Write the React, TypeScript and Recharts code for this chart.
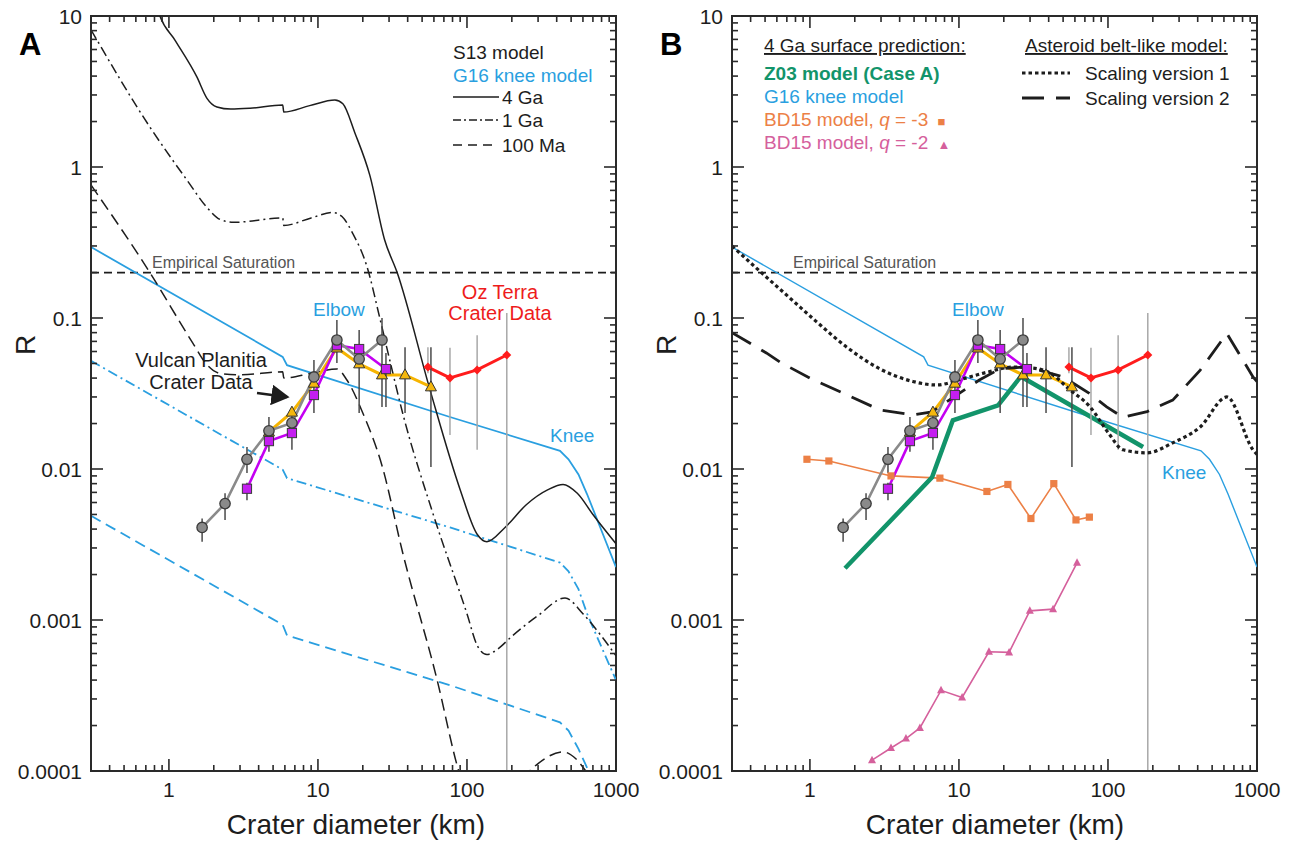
import React from 'react';
import { LineChart, Line, XAxis, YAxis, ReferenceLine, ReferenceArea, ErrorBar } from 'recharts';

type Pt = [number, number];
type ErrPt = [number, number, number, number]; // D, R, low, high

// ---------- Panel A: S13 model curves (crater diameter km, R) ----------
const s13Ga4: Pt[] = [
  [0.8, 13], [0.87, 10], [1.1, 6.9], [1.54, 3.95], [1.8, 2.85], [2.1, 2.5], [2.6, 2.42], [3.5, 2.45],
  [5.8, 2.57], [5.9, 2.31], [8.8, 2.55], [13, 2.78], [14.7, 2.62], [17.7, 1.68], [22.3, 0.88], [28, 0.33],
  [34, 0.2], [56.5, 0.0334], [90, 0.0073], [117, 0.0037], [136, 0.0033], [180, 0.0041], [250, 0.0058],
  [350, 0.0073], [441, 0.0079], [550, 0.0069], [700, 0.005], [1000, 0.0032],
];
const s13Ga1: Pt[] = [
  [0.3, 8.1], [0.745, 1.84], [1.32, 0.82], [1.8, 0.54], [2.2, 0.45], [2.7, 0.43], [5.8, 0.46], [5.9, 0.41],
  [9, 0.46], [12.6, 0.5], [14.5, 0.47], [17.2, 0.36], [21.3, 0.22], [26, 0.1], [30, 0.055], [37, 0.0235],
  [59, 0.0051], [100, 0.0011], [117, 0.00068], [136, 0.00059], [160, 0.00064], [200, 0.00078],
  [300, 0.00107], [455, 0.0014], [600, 0.0011], [800, 0.00078], [1000, 0.00058],
];
const s13Ma100: Pt[] = [
  [0.3, 0.76], [0.745, 0.2], [1.45, 0.068], [1.8, 0.049], [2.2, 0.043], [3, 0.042], [5.8, 0.044], [5.9, 0.04],
  [9, 0.043], [13.4, 0.046], [15.6, 0.039], [20, 0.0235], [27, 0.0104], [37, 0.0028], [62.7, 0.00041],
  [88, 0.0001], [105, 0.00006], [136, 0.000052], [170, 0.00006], [210, 0.000078], [300, 0.000112],
  [440, 0.000134], [540, 0.00012], [650, 0.000095], [800, 0.00007],
];

// ---------- G16 knee model ----------
const g16Ga4: Pt[] = [
  [0.3, 0.295], [5.8, 0.0553], [6.2, 0.0487], [76.9, 0.0221], [421, 0.0132], [480, 0.0116],
  [560, 0.0092], [640, 0.0068], [800, 0.0039], [1000, 0.00224],
];
const g16Ga1: Pt[] = [
  [0.3, 0.052], [5.8, 0.0099], [6.2, 0.0087], [76.9, 0.0041], [421, 0.0024], [480, 0.0021],
  [560, 0.0016], [640, 0.0011], [800, 0.00066], [1000, 0.0004],
];
const g16Ma100: Pt[] = [
  [0.3, 0.0049], [5.8, 0.00093], [6.2, 0.00079], [76.9, 0.00037], [421, 0.00021], [480, 0.000185],
  [560, 0.00014], [640, 0.000105], [750, 0.00007],
];

// ---------- crater data (with error bars) ----------
const vulcanCircles: ErrPt[] = [
  [1.67, 0.0041, 0.0033, 0.0047], [2.38, 0.0059, 0.0046, 0.0069], [3.34, 0.0116, 0.0094, 0.014],
  [4.69, 0.0179, 0.013, 0.0221], [6.69, 0.0202, 0.0134, 0.0254], [9.4, 0.0407, 0.0235, 0.0527],
  [13.4, 0.0715, 0.0503, 0.097], [18.9, 0.0535, 0.0235, 0.0833], [26.9, 0.0715, 0.0257, 0.1],
];
const vulcanSquares: ErrPt[] = [
  [3.34, 0.0074, 0.0062, 0.0081], [4.69, 0.0153, 0.0153, 0.0153], [6.69, 0.0173, 0.0173, 0.0173],
  [9.4, 0.0309, 0.0309, 0.0309], [13.4, 0.066, 0.066, 0.066], [18.9, 0.0623, 0.0623, 0.0623],
  [28.6, 0.0459, 0.0257, 0.0586],
];
const vulcanTriangles: ErrPt[] = [
  [4.69, 0.0176, 0.0176, 0.0176], [6.69, 0.0238, 0.0238, 0.0238], [9.4, 0.037, 0.037, 0.037],
  [13.4, 0.0633, 0.0633, 0.0633], [18.9, 0.0497, 0.0497, 0.0497], [26.9, 0.042, 0.042, 0.042],
  [38.4, 0.042, 0.0235, 0.064], [57.3, 0.035, 0.0103, 0.064],
];
const ozTerra: ErrPt[] = [
  [54.7, 0.0473, 0.043, 0.064], [76.9, 0.0401, 0.0168, 0.0635], [117, 0.0453, 0.0134, 0.077],
  [185, 0.0569, 0.0001, 0.108],
];

// ---------- Panel B: 4 Ga predictions ----------
const z03CaseA: Pt[] = [[1.72, 0.0022], [6.6, 0.0088], [9.1, 0.021], [18.3, 0.0264], [26, 0.041], [172, 0.014]];
const bd15q3: Pt[] = [
  [0.955, 0.0116], [1.34, 0.0113], [3.5, 0.009], [7.45, 0.0087], [15.4, 0.0071], [21.3, 0.0079],
  [30.4, 0.0047], [43.3, 0.008], [61, 0.0046], [75, 0.0048],
];
const bd15q2: Pt[] = [
  [2.61, 0.000118], [3.5, 0.000142], [4.41, 0.000164], [5.47, 0.000193], [7.58, 0.000342], [10.5, 0.000307],
  [15.9, 0.000616], [21.7, 0.00061], [29.9, 0.00115], [42.8, 0.00118], [62, 0.00239],
];
const beltV1: Pt[] = [
  [0.3, 0.3], [0.5, 0.19], [0.77, 0.13], [1.1, 0.095], [1.77, 0.064], [2.95, 0.046], [4.9, 0.038], [7.1, 0.036],
  [10.1, 0.039], [15.4, 0.0437], [23, 0.0473], [31.4, 0.0466], [40.7, 0.0433], [55.6, 0.0334], [75.5, 0.0259],
  [100, 0.0175], [126, 0.0134], [183, 0.0128], [272, 0.0149], [416, 0.019], [628, 0.03], [940, 0.0134], [1000, 0.0125],
];
const beltV2: Pt[] = [
  [0.3, 0.08], [0.51, 0.0587], [0.63, 0.051], [1, 0.04], [1.77, 0.031], [2.95, 0.0246], [4.9, 0.0228], [6.6, 0.0239],
  [9.7, 0.031], [13.8, 0.039], [18.8, 0.046], [27, 0.0473], [35, 0.045], [50, 0.0407], [75, 0.0317], [98, 0.0258],
  [126, 0.022], [183, 0.024], [272, 0.0286], [416, 0.0452], [628, 0.079], [940, 0.0407], [1000, 0.038],
];

// ---------- axis ticks ----------
const minorMults = [1, 2, 3, 4, 5, 6, 7, 8, 9];
const xTicks = [...[3, 4, 5, 6, 7, 8, 9].map((k) => 0.1 * k), ...[1, 10, 100].flatMap((d) => minorMults.map((k) => d * k)), 1000];
const yTicks = [...[0.0001, 0.001, 0.01, 0.1, 1].flatMap((d) => minorMults.map((k) => d * k)), 10];

const FONT = '"Liberation Sans", Arial, Helvetica, sans-serif';
const BLUE = '#2a9fe0';
const INK = '#1d1d1d';
const AXIS = '#2a2a2a';

const CHART_W = 640;
const CHART_H = 842;
const MARGIN = { top: 16, right: 24, bottom: 11, left: 31 };
const X_AXIS_H = 60;
const Y_AXIS_W = 60;
const PLOT_W = CHART_W - MARGIN.left - MARGIN.right - Y_AXIS_W;
const PLOT_H = CHART_H - MARGIN.top - MARGIN.bottom - X_AXIS_H;

const rows = (pts: Pt[]) => pts.map(([d, r]) => ({ d, r }));
const errRows = (pts: ErrPt[]) => pts.map(([d, r, lo, hi]) => ({ d, r, err: [r - lo, hi - r] }));

const isMajor = (v: number) => Math.abs(Math.log10(v) - Math.round(Math.log10(v))) < 1e-6;
const fmt = (v: number) => (v >= 1 ? String(Math.round(v)) : String(v));
const tickLen = (v: number) => (isMajor(v) ? 12 : 6);

// bottom axis ticks, mirrored on the top edge of the frame
function BottomTick({ x, y, payload }: any) {
  const v = payload.value;
  const top = y - PLOT_H;
  return (
    <g>
      <line x1={x} x2={x} y1={y} y2={y - tickLen(v)} stroke={AXIS} strokeWidth={1.6} />
      <line x1={x} x2={x} y1={top} y2={top + tickLen(v)} stroke={AXIS} strokeWidth={1.6} />
      {isMajor(v) && (
        <text x={x} y={y + 26} textAnchor="middle" fontSize={21} fill={INK}>
          {fmt(v)}
        </text>
      )}
    </g>
  );
}
// left axis ticks, mirrored on the right edge of the frame
function LeftTick({ x, y, payload }: any) {
  const v = payload.value;
  const right = x + PLOT_W;
  return (
    <g>
      <line x1={x} x2={x + tickLen(v)} y1={y} y2={y} stroke={AXIS} strokeWidth={1.6} />
      <line x1={right} x2={right - tickLen(v)} y1={y} y2={y} stroke={AXIS} strokeWidth={1.6} />
      {isMajor(v) && (
        <text x={x - 9} y={y} dy="0.36em" textAnchor="end" fontSize={21} fill={INK}>
          {fmt(v)}
        </text>
      )}
    </g>
  );
}

const frameAxes = () => [
  <XAxis key="xb" type="number" dataKey="d" scale="log" domain={[0.3, 1000]} allowDataOverflow ticks={xTicks}
    interval={0} tickSize={0} tickMargin={0} height={X_AXIS_H} tick={<BottomTick />} tickLine={false}
    axisLine={{ stroke: AXIS, strokeWidth: 2 }} />,
  <YAxis key="yl" type="number" dataKey="r" scale="log" domain={[0.0001, 10]} allowDataOverflow ticks={yTicks}
    interval={0} tickSize={0} tickMargin={0} width={Y_AXIS_W} tick={<LeftTick />} tickLine={false}
    axisLine={{ stroke: AXIS, strokeWidth: 2 }} />,
  <ReferenceLine key="sat" y={0.2} stroke={INK} strokeWidth={1.8} strokeDasharray="8 5" />,
];
const frameBox = () => (
  <ReferenceArea x1={0.3} x2={1000} y1={0.0001} y2={10} fill="none" stroke={AXIS} strokeWidth={2} ifOverflow="visible" />
);

// ---------- markers ----------
const grayDot = (p: any) => (
  <circle key={`c${p.index}`} cx={p.cx} cy={p.cy} r={5.2} fill="#8a8a8a" stroke="#3a3a3a" strokeWidth={1.3} />
);
const magentaDot = (p: any) => (
  <rect key={`s${p.index}`} x={p.cx - 4.6} y={p.cy - 4.6} width={9.2} height={9.2} fill="#c41ef0" stroke="#3a3a3a" strokeWidth={1} />
);
const goldDot = (p: any) => (
  <polygon key={`t${p.index}`} points={`${p.cx},${p.cy - 6} ${p.cx + 5.5},${p.cy + 4} ${p.cx - 5.5},${p.cy + 4}`}
    fill="#f4b70d" stroke="#333" strokeWidth={1} />
);
const redDot = (p: any) => (
  <polygon key={`r${p.index}`} points={`${p.cx},${p.cy - 4.5} ${p.cx + 4.5},${p.cy} ${p.cx},${p.cy + 4.5} ${p.cx - 4.5},${p.cy}`}
    fill="#ff1c1c" />
);
const bdSquare = (p: any) => (
  <rect key={`q${p.index}`} x={p.cx - 3.6} y={p.cy - 3.6} width={7.2} height={7.2} fill="#ec8046" />
);
const bdTri = (p: any) => (
  <polygon key={`p${p.index}`} points={`${p.cx},${p.cy - 4.5} ${p.cx + 4},${p.cy + 3} ${p.cx - 4},${p.cy + 3}`} fill="#d5609c" />
);

const craterSeries = () => [
  <Line key="oz" data={errRows(ozTerra)} dataKey="r" stroke="#ff1c1c" strokeWidth={3} dot={redDot} activeDot={false}
    isAnimationActive={false}>
    <ErrorBar dataKey="err" direction="y" width={0} stroke="#a8a8a8" strokeWidth={1.5} />
  </Line>,
  <Line key="tri" data={errRows(vulcanTriangles)} dataKey="r" stroke="#f6b400" strokeWidth={3} dot={goldDot}
    activeDot={false} isAnimationActive={false}>
    <ErrorBar dataKey="err" direction="y" width={0} stroke="#4a4a4a" strokeWidth={1.5} />
  </Line>,
  <Line key="sq" data={errRows(vulcanSquares)} dataKey="r" stroke="#c400f2" strokeWidth={2.6} dot={magentaDot}
    activeDot={false} isAnimationActive={false}>
    <ErrorBar dataKey="err" direction="y" width={0} stroke="#4a4a4a" strokeWidth={1.5} />
  </Line>,
  <Line key="ci" data={errRows(vulcanCircles)} dataKey="r" stroke="#8a8a8a" strokeWidth={2.6} dot={grayDot}
    activeDot={false} isAnimationActive={false}>
    <ErrorBar dataKey="err" direction="y" width={0} stroke="#4a4a4a" strokeWidth={1.5} />
  </Line>,
];

function PanelA() {
  return (
    <LineChart width={CHART_W} height={CHART_H} margin={MARGIN}>
      {frameAxes()}
      <Line data={rows(g16Ga4)} dataKey="r" stroke={BLUE} strokeWidth={1.8} dot={false} activeDot={false} isAnimationActive={false} />
      <Line data={rows(g16Ga1)} dataKey="r" stroke={BLUE} strokeWidth={1.8} strokeDasharray="10 4 2 4" dot={false} activeDot={false} isAnimationActive={false} />
      <Line data={rows(g16Ma100)} dataKey="r" stroke={BLUE} strokeWidth={1.8} strokeDasharray="11 6" dot={false} activeDot={false} isAnimationActive={false} />
      <Line type="monotoneX" data={rows(s13Ga4)} dataKey="r" stroke={INK} strokeWidth={1.5} dot={false} activeDot={false} isAnimationActive={false} />
      <Line type="monotoneX" data={rows(s13Ga1)} dataKey="r" stroke={INK} strokeWidth={1.5} strokeDasharray="10 4 2 4" dot={false} activeDot={false} isAnimationActive={false} />
      <Line type="monotoneX" data={rows(s13Ma100)} dataKey="r" stroke={INK} strokeWidth={1.5} strokeDasharray="12 6" dot={false} activeDot={false} isAnimationActive={false} />
      {craterSeries()}
      {frameBox()}
    </LineChart>
  );
}

function PanelB() {
  return (
    <LineChart width={CHART_W} height={CHART_H} margin={MARGIN}>
      {frameAxes()}
      <Line data={rows(g16Ga4)} dataKey="r" stroke={BLUE} strokeWidth={1.4} dot={false} activeDot={false} isAnimationActive={false} />
      <Line data={rows(bd15q3)} dataKey="r" stroke="#ec8046" strokeWidth={1.6} dot={bdSquare} activeDot={false} isAnimationActive={false} />
      <Line data={rows(bd15q2)} dataKey="r" stroke="#d5609c" strokeWidth={1.6} dot={bdTri} activeDot={false} isAnimationActive={false} />
      <Line data={rows(z03CaseA)} dataKey="r" stroke="#12946a" strokeWidth={4.5} dot={false} activeDot={false} isAnimationActive={false} />
      {craterSeries()}
      <Line type="monotoneX" data={rows(beltV1)} dataKey="r" stroke={INK} strokeWidth={3.2} strokeDasharray="3.5 3" dot={false} activeDot={false} isAnimationActive={false} />
      <Line data={rows(beltV2)} dataKey="r" stroke={INK} strokeWidth={2.8} strokeDasharray="22 12" dot={false} activeDot={false} isAnimationActive={false} />
      {frameBox()}
    </LineChart>
  );
}

function Overlay() {
  const t = { fontSize: 19, fill: INK } as const;
  return (
    <svg width={1292} height={842} style={{ position: 'absolute', left: 0, top: 0, pointerEvents: 'none' }} fontFamily={FONT}>
      <defs>
        <marker id="arrowHead" markerWidth="8" markerHeight="8" refX="6" refY="4" orient="auto" markerUnits="strokeWidth">
          <path d="M0,0 L7,4 L0,8 z" fill={INK} />
        </marker>
      </defs>
      {/* panel letters and axis titles */}
      <text x={19} y={55} fontSize={31} fontWeight="bold" fill="#000">A</text>
      <text x={660} y={55} fontSize={31} fontWeight="bold" fill="#000">B</text>
      <text transform="translate(35,345) rotate(-90)" textAnchor="middle" fontSize={28} fill={INK}>R</text>
      <text transform="translate(676,345) rotate(-90)" textAnchor="middle" fontSize={28} fill={INK}>R</text>
      <text x={356} y={834} textAnchor="middle" fontSize={28} fill={INK}>Crater diameter (km)</text>
      <text x={995} y={834} textAnchor="middle" fontSize={28} fill={INK}>Crater diameter (km)</text>

      {/* panel A annotations */}
      <text x={152} y={268} fontSize={16} fill="#555">Empirical Saturation</text>
      <text x={313} y={316} fontSize={19} fill={BLUE}>Elbow</text>
      <text x={550} y={442} fontSize={19} fill={BLUE}>Knee</text>
      <text x={500} y={299} textAnchor="middle" fontSize={20} fill="#ee1c1c">Oz Terra</text>
      <text x={500} y={320} textAnchor="middle" fontSize={20} fill="#ee1c1c">Crater Data</text>
      <text x={201} y={367} textAnchor="middle" fontSize={20} fill={INK}>Vulcan Planitia</text>
      <text x={201} y={389} textAnchor="middle" fontSize={20} fill={INK}>Crater Data</text>
      <line x1={257} y1={393} x2={287} y2={397} stroke={INK} strokeWidth={2.6} markerEnd="url(#arrowHead)" />

      {/* panel A legend */}
      <text x={453} y={59} {...t}>S13 model</text>
      <text x={453} y={82} fontSize={19} fill={BLUE}>G16 knee model</text>
      <line x1={453} x2={499} y1={97} y2={97} stroke={INK} strokeWidth={1.5} />
      <text x={502} y={104} {...t}>4 Ga</text>
      <line x1={453} x2={499} y1={120} y2={120} stroke={INK} strokeWidth={1.5} strokeDasharray="8 3 2 3" />
      <text x={502} y={127} {...t}>1 Ga</text>
      <line x1={453} x2={492} y1={145} y2={145} stroke={INK} strokeWidth={1.5} strokeDasharray="9 6" />
      <text x={502} y={152} {...t}>100 Ma</text>

      {/* panel B annotations */}
      <text x={793} y={268} fontSize={16} fill="#555">Empirical Saturation</text>
      <text x={952} y={316} fontSize={19} fill={BLUE}>Elbow</text>
      <text x={1162} y={479} fontSize={19} fill={BLUE}>Knee</text>

      {/* panel B legend */}
      <text x={764} y={52} {...t} textDecoration="underline">4 Ga surface prediction:</text>
      <text x={764} y={80} fontSize={19} fontWeight="bold" fill="#12946a">Z03 model (Case A)</text>
      <text x={764} y={103} fontSize={19} fill={BLUE}>G16 knee model</text>
      <text x={764} y={126} fontSize={19} fill="#ec8046">
        BD15 model, <tspan fontStyle="italic">q</tspan> = -3 <tspan fontSize={13} dx={4}>■</tspan>
      </text>
      <text x={764} y={149} fontSize={19} fill="#d5609c">
        BD15 model, <tspan fontStyle="italic">q</tspan> = -2 <tspan fontSize={13} dx={4}>▲</tspan>
      </text>
      <text x={1025} y={52} {...t} textDecoration="underline">Asteroid belt-like model:</text>
      <line x1={1022} x2={1070} y1={73} y2={73} stroke={INK} strokeWidth={3} strokeDasharray="3.5 3" />
      <text x={1085} y={80} {...t}>Scaling version 1</text>
      <line x1={1022} x2={1070} y1={98} y2={98} stroke={INK} strokeWidth={3} strokeDasharray="22 12" />
      <text x={1085} y={105} {...t}>Scaling version 2</text>
    </svg>
  );
}

export default function App() {
  return (
    <div style={{ position: 'absolute', left: 0, top: 0, width: 1292, height: 842, background: '#fff', fontFamily: FONT }}>
      <div style={{ position: 'absolute', left: 0, top: 0 }}>
        <PanelA />
      </div>
      <div style={{ position: 'absolute', left: 641, top: 0 }}>
        <PanelB />
      </div>
      <Overlay />
    </div>
  );
}
